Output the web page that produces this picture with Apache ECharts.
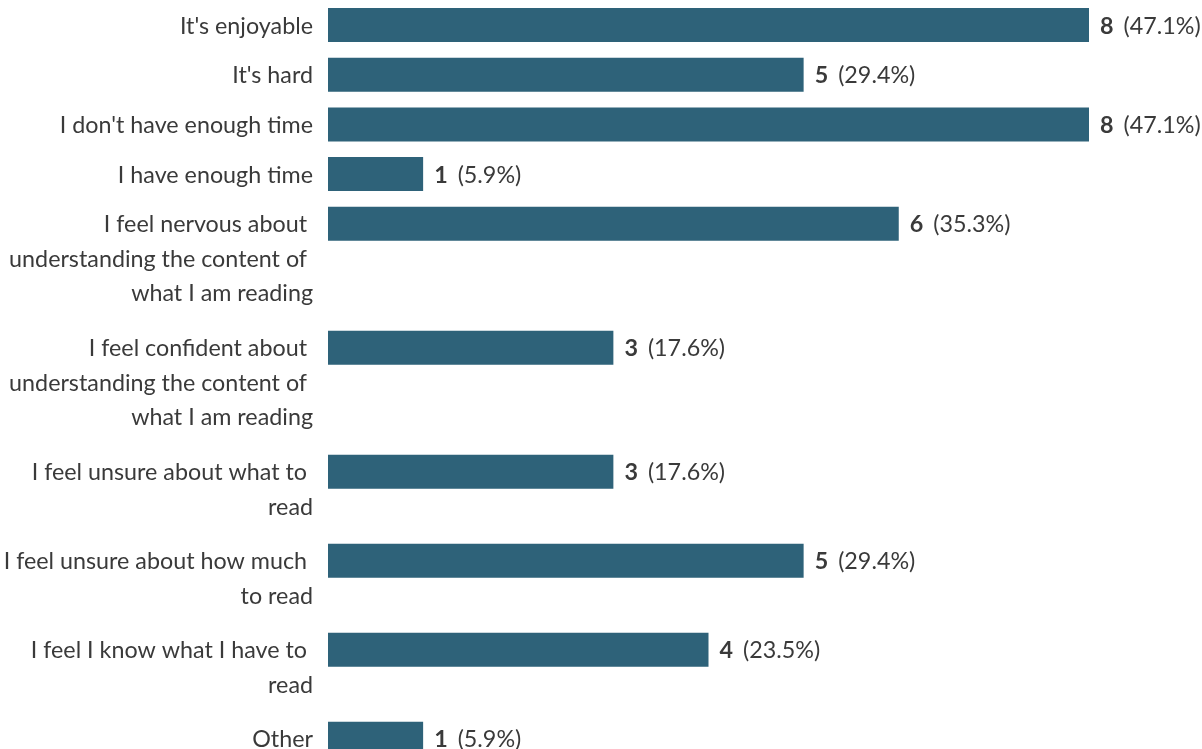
<!DOCTYPE html>
<html>
<head>
<meta charset="utf-8">
<script src="https://cdn.jsdelivr.net/npm/echarts@6/dist/echarts.min.js"></script>
<style>
html,body{margin:0;padding:0;background:#fff;}
#chart{width:1202px;height:749px;}
</style>
</head>
<body>
<div id="chart"></div>
<script>
// Data
var categories = [
  "It's enjoyable",
  "It's hard",
  "I don't have enough time",
  "I have enough time",
  "I feel nervous about \nunderstanding the content of \nwhat I am reading",
  "I feel confident about \nunderstanding the content of \nwhat I am reading",
  "I feel unsure about what to \nread",
  "I feel unsure about how much \nto read",
  "I feel I know what I have to \nread",
  "Other"
];
var counts = [8, 5, 8, 1, 6, 3, 3, 5, 4, 1];
var percents = ["47.1%", "29.4%", "47.1%", "5.9%", "35.3%", "17.6%", "17.6%", "29.4%", "23.5%", "5.9%"];

// Layout (band height per number of label lines)
var bandForLines = {1: 49.7, 2: 89, 3: 124};
var barH = 34;
var lineH = 34.5;
var startY = 8;
var tops = [];
var acc = startY;
categories.forEach(function (c) {
  tops.push(acc);
  acc += bandForLines[c.split('\n').length];
});

var data = counts.map(function (v, i) { return [v, tops[i], i]; });

var FONT = 'Lato, "Open Sans", sans-serif';
var TEXT = '#3a3a3a';
var FS = 23.3;

var chart = echarts.init(document.getElementById('chart'));
chart.setOption({
  animation: false,
  grid: {left: 328, right: 113, top: 0, bottom: 0, containLabel: false},
  xAxis: {type: 'value', min: 0, max: 8, show: false},
  yAxis: {type: 'value', min: 0, max: 749, inverse: true, show: false},
  series: [{
    type: 'custom',
    clip: false,
    data: data,
    renderItem: function (params, api) {
      var v = api.value(0), top = api.value(1), idx = api.value(2);
      var p0 = api.coord([0, top]);
      var p1 = api.coord([v, top + barH]);
      var cy = (p0[1] + p1[1]) / 2;
      return {
        type: 'group',
        children: [
          {
            type: 'rect',
            shape: {x: p0[0], y: p0[1], width: p1[0] - p0[0], height: p1[1] - p0[1]},
            style: {fill: '#2e6279'}
          },
          {
            type: 'text',
            style: {
              text: categories[idx],
              x: p0[0] - 15,
              y: cy - lineH / 2 + 1,
              align: 'right', textAlign: 'right',
              verticalAlign: 'top', textVerticalAlign: 'top',
              lineHeight: lineH,
              fontFamily: FONT, fontSize: FS,
              fill: TEXT
            }
          },
          {
            type: 'text',
            style: {
              text: '{b|' + counts[idx] + '}{p|(' + percents[idx] + ')}',
              x: p1[0] + 11,
              y: cy + 1,
              align: 'left', textAlign: 'left',
              verticalAlign: 'middle', textVerticalAlign: 'middle',
              fontFamily: FONT, fontSize: FS,
              fill: TEXT,
              rich: {
                b: {fontFamily: FONT, fontSize: FS, fontWeight: 'bold', fill: TEXT, color: TEXT, padding: [0, 10, 0, 0]},
                p: {fontFamily: FONT, fontSize: FS, fill: TEXT, color: TEXT}
              }
            }
          }
        ]
      };
    }
  }]
});
</script>
</body>
</html>
